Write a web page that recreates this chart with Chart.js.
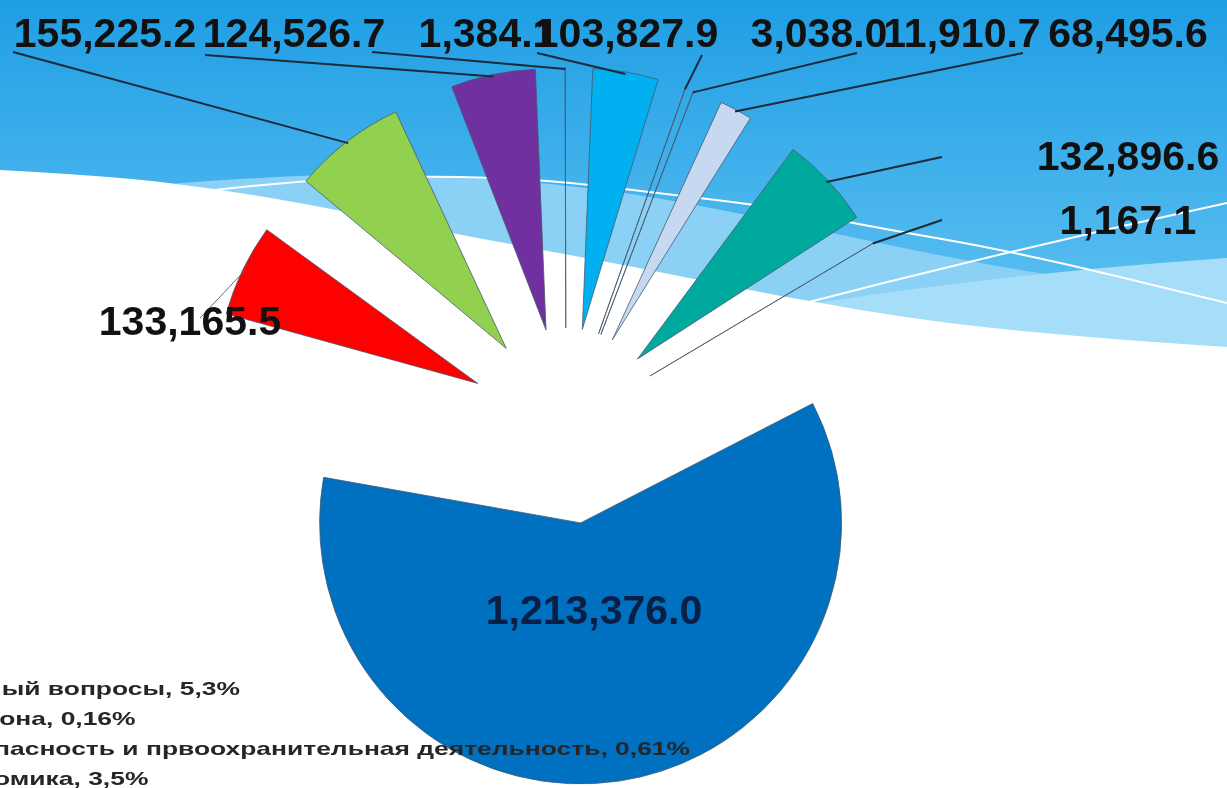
<!DOCTYPE html>
<html>
<head>
<meta charset="utf-8">
<title>Расходы бюджета</title>
<script src="https://cdn.jsdelivr.net/npm/chart.js@4.4.1/dist/chart.umd.min.js"></script>
<style>
  html, body { margin: 0; padding: 0; overflow: hidden; background: #fff; }
  #wrap { position: relative; width: 1227px; height: 788px; }
</style>
</head>
<body>
<div id="wrap"><canvas id="myChart" width="1227" height="788"></canvas></div>
<script>
// budget sections, in slice order (clockwise from 12 o'clock)
const categories = [
  "Общегосударственный вопросы",
  "Национальная оборона",
  "Национальная безопасность и првоохранительная деятельность",
  "Национальная экономика",
  "Жилищно-коммунальное хозяйство",
  "Охрана окружающей среды",
  "Образование",
  "Культура и кинематография",
  "Социальная политика",
  "Физическая культура и спорт",
  "Средства массовой информации"
];
const values = [103827.9, 3038.0, 11910.7, 68495.6, 132896.6, 1167.1,
                1213376.0, 133165.5, 155225.2, 124526.7, 1384.1];
const sliceColors = ["#00b0f0", "#a9b8a9", "#92d050", "#c6d9f1", "#00a99d", "#c8cdd2",
                     "#0070c0", "#ff0000", "#92d050", "#7030a0", "#dbeef3"];
const legendRows = 4; // only the first rows of the legend are in view

const total = values.reduce((a, b) => a + b, 0);
const OFFSET = 392;   // chart.js moves a slice by offset/4
const RADIUS = 261;

function fmtValue(v) {
  return v.toLocaleString("en-US", {minimumFractionDigits: 1, maximumFractionDigits: 1});
}
function fmtPct(v) {
  const p = v / total * 100;
  return (p >= 1 ? p.toFixed(1) : p.toFixed(2)).replace(".", ",") + "%";
}

// smooth curve through points (quadratic through midpoints)
function smoothTo(ctx, pts) {
  for (let i = 1; i < pts.length - 1; i++) {
    const mx = (pts[i][0] + pts[i + 1][0]) / 2, my = (pts[i][1] + pts[i + 1][1]) / 2;
    ctx.quadraticCurveTo(pts[i][0], pts[i][1], mx, my);
  }
  const last = pts[pts.length - 1];
  ctx.lineTo(last[0], last[1]);
}

// slide background (blue top, white wave)
const slideBackground = {
  id: "slideBackground",
  beforeDraw(chart) {
    const {ctx, width, height} = chart;
    ctx.save();
    const g = ctx.createLinearGradient(0, 0, 0, 360);
    g.addColorStop(0, "#1f9ee4");
    g.addColorStop(1, "#66c5f4");
    ctx.fillStyle = g;
    ctx.fillRect(0, 0, width, height);

    ctx.fillStyle = "#8bd1f6";
    ctx.beginPath();
    ctx.moveTo(140, 186);
    smoothTo(ctx, [[140, 186], [313, 173], [438, 176], [548, 183], [650, 196],
                   [782, 222], [939, 256], [1095, 283], [1227, 296]]);
    ctx.lineTo(1227, 380);
    ctx.lineTo(140, 380);
    ctx.closePath();
    ctx.fill();

    ctx.fillStyle = "#a6ddf9";
    ctx.beginPath();
    ctx.moveTo(760, 312);
    ctx.quadraticCurveTo(980, 275, 1227, 258);
    ctx.lineTo(1227, 380);
    ctx.lineTo(760, 380);
    ctx.closePath();
    ctx.fill();

    ctx.fillStyle = "#ffffff";
    ctx.beginPath();
    ctx.moveTo(0, 170);
    smoothTo(ctx, [[0, 170], [110, 176], [211, 188], [313, 205], [470, 237], [626, 265],
                   [782, 297], [939, 323], [1095, 338], [1227, 347]]);
    ctx.lineTo(1227, height);
    ctx.lineTo(0, height);
    ctx.closePath();
    ctx.fill();

    ctx.strokeStyle = "#ffffff";
    ctx.lineWidth = 2;
    ctx.beginPath();
    ctx.moveTo(205, 191);
    smoothTo(ctx, [[205, 191], [313, 179], [438, 176], [548, 180], [650, 192],
                   [782, 208], [861, 225], [1017, 252], [1227, 303]]);
    ctx.stroke();
    ctx.beginPath();
    ctx.moveTo(770, 312);
    ctx.quadraticCurveTo(1000, 252, 1227, 203);
    ctx.stroke();
    ctx.restore();
  }
};

// keep every exploded slice at the same radius
const equalRadius = {
  id: "equalRadius",
  beforeDatasetsDraw(chart) {
    const meta = chart.getDatasetMeta(0);
    const base = meta.controller.outerRadius;
    meta.data.forEach(arc => {
      const fix = 1 - Math.sin(Math.min(Math.PI, arc.circumference));
      arc.outerRadius = base - (OFFSET / 4) * fix;
    });
  }
};

// value labels with leader lines
const labelLayout = [
  {x: 627, y: 47, lx: 537, ly: 53},
  {x: 819, y: 47, lx: 702, ly: 55},
  {x: 962, y: 47, lx: 857, ly: 53},
  {x: 1128, y: 47, lx: 1023, ly: 53},
  {x: 1128, y: 170, lx: 942, ly: 157},
  {x: 1128, y: 234, lx: 942, ly: 220},
  {x: 594, y: 624, color: "#0b1f45"},
  {x: 190, y: 335, lx: 200, ly: 318, thin: true},
  {x: 105, y: 47, lx: 13, ly: 52},
  {x: 294, y: 47, lx: 205, ly: 55},
  {x: 487, y: 47, lx: 372, ly: 52}
];

const valueLabels = {
  id: "valueLabels",
  afterDatasetsDraw(chart) {
    const {ctx} = chart;
    const meta = chart.getDatasetMeta(0);
    ctx.save();
    meta.data.forEach((arc, i) => {
      const p = labelLayout[i];
      if (p.lx === undefined) return;
      const mid = (arc.startAngle + arc.endAngle) / 2;
      const r = OFFSET / 4 + RADIUS - 2;
      ctx.beginPath();
      ctx.moveTo(arc.x + Math.cos(mid) * r, arc.y + Math.sin(mid) * r);
      ctx.lineTo(p.lx, p.ly);
      ctx.strokeStyle = p.thin ? "#6d6d6d" : "#1c2b3a";
      ctx.lineWidth = p.thin ? 1 : 2;
      ctx.stroke();
    });
    ctx.font = "bold 41px 'Liberation Sans', Arial, sans-serif";
    ctx.textAlign = "center";
    ctx.textBaseline = "alphabetic";
    values.forEach((v, i) => {
      const p = labelLayout[i];
      ctx.fillStyle = p.color || "#111111";
      ctx.fillText(fmtValue(v), p.x, p.y);
    });
    ctx.restore();
  }
};

// legend, cut by the left edge of the slide
const cutLegend = {
  id: "cutLegend",
  afterDatasetsDraw(chart) {
    const {ctx} = chart;
    const rows = categories.slice(0, legendRows).map((c, i) => c + ", " + fmtPct(values[i]));
    ctx.save();
    ctx.font = "bold 19px 'Liberation Sans Narrow', 'Liberation Sans', sans-serif";
    ctx.fillStyle = "#262626";
    ctx.textAlign = "left";
    ctx.textBaseline = "alphabetic";
    const x0 = -265, x1 = 690;
    const sx = (x1 - x0) / ctx.measureText(rows[2]).width;
    rows.forEach((t, i) => {
      ctx.save();
      ctx.translate(x0, 695 + i * 30);
      ctx.scale(sx, 1);
      ctx.fillText(t, 0, 0);
      ctx.restore();
    });
    ctx.restore();
  }
};

new Chart(document.getElementById("myChart"), {
  type: "pie",
  data: {
    labels: categories,
    datasets: [{
      data: values,
      backgroundColor: sliceColors,
      borderColor: "rgba(70,90,110,0.8)",
      borderWidth: 1,
      offset: OFFSET,
      radius: RADIUS
    }]
  },
  options: {
    responsive: false,
    animation: false,
    events: [],
    layout: {padding: {left: 0, right: 95, top: 64, bottom: 0}},
    plugins: {
      legend: {display: false},
      tooltip: {enabled: false}
    }
  },
  plugins: [slideBackground, equalRadius, valueLabels, cutLegend]
});
</script>
</body>
</html>
